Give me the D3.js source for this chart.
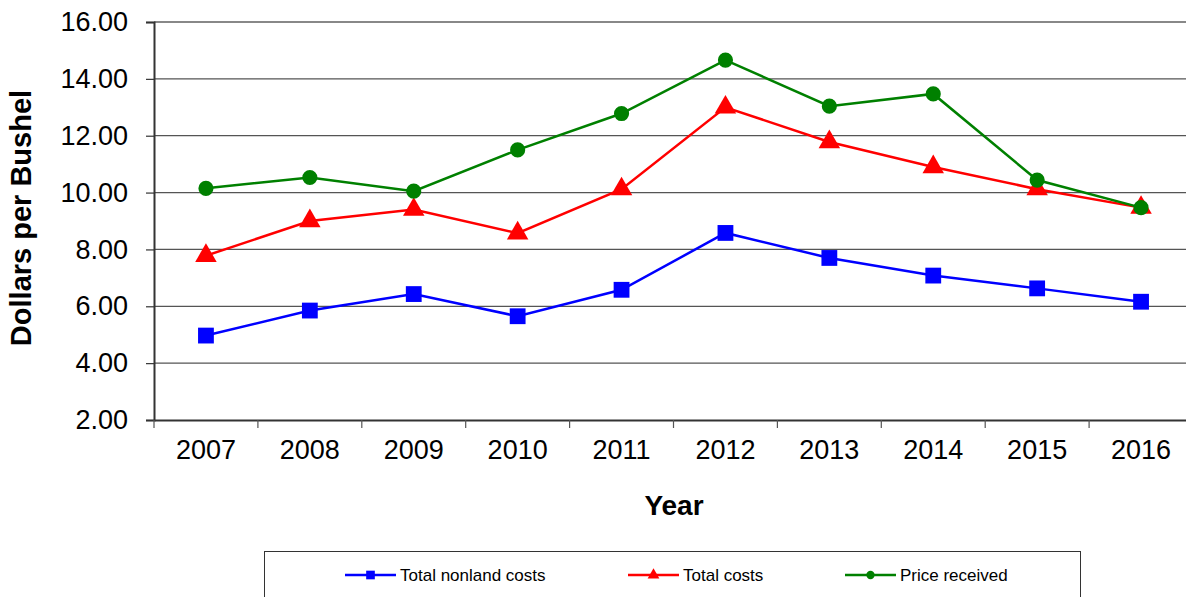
<!DOCTYPE html>
<meta charset="utf-8">
<style>
  body { margin: 0; background: #fff; }
  svg { font-family: Arial, "Liberation Sans", sans-serif; display: block; }
</style>
<svg width="1186" height="597"></svg>
<script src="https://d3js.org/d3.v7.min.js"></script>
<script>

// data
var years = ["2007", "2008", "2009", "2010", "2011", "2012", "2013", "2014", "2015", "2016"];
var nonlandCosts = [4.97, 5.85, 6.43, 5.65, 6.58, 8.58, 7.70, 7.08, 6.63, 6.16];
var totalCosts = [7.78, 9.00, 9.40, 8.57, 10.12, 13.00, 11.78, 10.90, 10.12, 9.47];
var priceReceived = [10.15, 10.53, 10.05, 11.50, 12.78, 14.66, 13.04, 13.47, 10.44, 9.47];
var yTicks = [2, 4, 6, 8, 10, 12, 14, 16];

var series = [
  {name: "Total nonland costs", values: nonlandCosts, color: "#0000ff", symbol: d3.symbolSquare, size: 250},
  {name: "Total costs", values: totalCosts, color: "#ff0000", symbol: d3.symbolTriangle, size: 200},
  {name: "Price received", values: priceReceived, color: "#008000", symbol: d3.symbolCircle, size: 180}
];

var svg = d3.select("svg");
var plotLeft = 154, plotTop = 22, plotBottom = 420, band = 103.9;

var x = d3.scaleBand().domain(years).range([plotLeft, plotLeft + band * years.length]);
var y = d3.scaleLinear().domain([2, 16]).range([plotBottom, plotTop]);

// grid lines
svg.append("g")
  .selectAll("line")
  .data(yTicks.slice(1))
  .join("line")
    .attr("x1", plotLeft).attr("x2", 1186)
    .attr("y1", d => y(d)).attr("y2", d => y(d))
    .attr("stroke", d => d === 16 ? "#888" : "#555")
    .attr("stroke-width", d => d === 16 ? 2 : 1.2);

// y axis
var yAxis = svg.append("g")
  .attr("transform", "translate(" + plotLeft + ",0)")
  .call(d3.axisLeft(y).tickValues(yTicks).tickFormat(d3.format(".2f")).tickSizeOuter(0).tickSize(8).tickPadding(18));
yAxis.select(".domain").attr("stroke", "#333").attr("stroke-width", 2);
yAxis.selectAll(".tick line").attr("stroke", "#333").attr("stroke-width", 1.2);
yAxis.selectAll("text").attr("font-size", 27).attr("fill", "#000").attr("font-family", "Arial, 'Liberation Sans', sans-serif");

// x axis
var xAxis = svg.append("g")
  .attr("transform", "translate(0," + plotBottom + ")")
  .call(d3.axisBottom(x).tickSize(0).tickPadding(20).tickSizeOuter(0));
xAxis.select(".domain").attr("stroke", "#333").attr("stroke-width", 2);
xAxis.selectAll("text").attr("font-size", 27).attr("fill", "#000").attr("font-family", "Arial, 'Liberation Sans', sans-serif");

// category separators on x axis
svg.append("g")
  .selectAll("line")
  .data(d3.range(years.length + 1))
  .join("line")
    .attr("x1", i => plotLeft + i * band).attr("x2", i => plotLeft + i * band)
    .attr("y1", plotBottom).attr("y2", plotBottom + 8)
    .attr("stroke", "#555").attr("stroke-width", 1.2);

// axis titles
svg.append("text")
  .attr("transform", "translate(31,218) rotate(-90)")
  .attr("text-anchor", "middle")
  .attr("font-size", 29).attr("font-weight", "bold")
  .text("Dollars per Bushel");

svg.append("text")
  .attr("x", 674).attr("y", 515)
  .attr("text-anchor", "middle")
  .attr("font-size", 28).attr("font-weight", "bold")
  .text("Year");

// lines and markers
var line = d3.line()
  .x((d, i) => x(years[i]) + x.bandwidth() / 2)
  .y(d => y(d));

series.forEach(s => {
  svg.append("path")
    .attr("d", line(s.values))
    .attr("fill", "none")
    .attr("stroke", s.color)
    .attr("stroke-width", 2.5);
  svg.append("g")
    .selectAll("path")
    .data(s.values)
    .join("path")
      .attr("transform", (d, i) => "translate(" + (x(years[i]) + x.bandwidth() / 2) + "," + y(d) + ")")
      .attr("d", d3.symbol().type(s.symbol).size(s.size))
      .attr("fill", s.color);
});

// legend
svg.append("rect")
  .attr("x", 264.5).attr("y", 551.5)
  .attr("width", 816).attr("height", 60)
  .attr("fill", "none").attr("stroke", "#333").attr("stroke-width", 1);

var legendX = [345, 628, 845];
series.forEach((s, i) => {
  var g = svg.append("g").attr("transform", "translate(" + legendX[i] + ",575)");
  g.append("line").attr("x1", 0).attr("x2", 51).attr("stroke", s.color).attr("stroke-width", 2.5);
  g.append("path").attr("transform", "translate(25.5,0)")
    .attr("d", d3.symbol().type(s.symbol).size(s.size * 0.3)).attr("fill", s.color);
  g.append("text").attr("x", 55).attr("dy", "0.35em")
    .attr("font-size", 17).text(s.name);
});

</script>
